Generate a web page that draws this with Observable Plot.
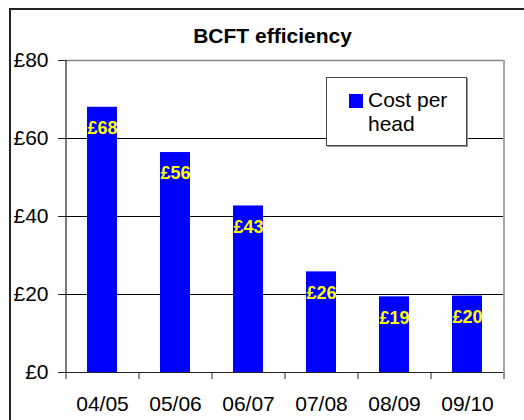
<!DOCTYPE html>
<html>
<head>
<meta charset="utf-8">
<script src="https://cdn.jsdelivr.net/npm/d3@7"></script>
<script src="https://cdn.jsdelivr.net/npm/@observablehq/plot@0.6"></script>
<style>
  html, body { margin: 0; padding: 0; background: #fff; overflow: hidden; }
  #wrap { position: relative; width: 524px; height: 420px; font-family: "Liberation Sans", Arial, sans-serif; }
  #outer { position: absolute; left: 9px; top: 8px; width: 600px; height: 500px; border: 2px solid #222; box-sizing: border-box; }
  #title { position: absolute; left: 0; top: 25px; width: 545px; text-align: center; font-size: 21px; line-height: 21px; font-weight: bold; color: #000; }
  #chart { position: absolute; left: 0; top: 0; }
  #legend { position: absolute; left: 326px; top: 77px; width: 141px; height: 69px; box-sizing: border-box; border: 1px solid #444; box-shadow: 1px 1px 0 #999; background: #fff; }
  #swatch { position: absolute; left: 349px; top: 94px; width: 14px; height: 14px; background: #0000ff; }
  #ltext { position: absolute; left: 368px; top: 88px; font-size: 21px; line-height: 24px; color: #000; }
</style>
</head>
<body>
<div id="wrap">
  <div id="outer"></div>
  <div id="title">BCFT efficiency</div>
  <div id="chart"></div>
  <div id="legend"></div>
  <div id="swatch"></div>
  <div id="ltext">Cost per<br>head</div>
</div>
<script>
const categories = ["04/05", "05/06", "06/07", "07/08", "08/09", "09/10"];
const costPerHead = [68, 56.4, 42.7, 25.8, 19.4, 19.6];
const yTicks = [0, 20, 40, 60, 80];
const gridValues = [20, 40, 60];

const data = categories.map((c, i) => ({period: c, value: costPerHead[i]}));

const W = 524, H = 420, mL = 65, mR = 21, mT = 60, mB = 48;
const step = (W - mL - mR) / categories.length;

const chart = Plot.plot({
  width: W,
  height: H,
  marginLeft: mL,
  marginRight: mR,
  marginTop: mT,
  marginBottom: mB,
  style: {fontFamily: "'Liberation Sans', Arial, sans-serif", fontSize: "21px", background: "transparent", color: "#000", overflow: "visible"},
  x: {domain: categories, paddingInner: 0.59, paddingOuter: 0.295, axis: null},
  y: {domain: [0, 80], axis: null},
  marks: [
    Plot.ruleY(gridValues, {stroke: "#000", strokeWidth: 1}),
    Plot.ruleY([80], {stroke: "#888", strokeWidth: 1.5}),
    Plot.ruleX([categories[categories.length - 1]], {y1: 0, y2: 80, dx: step / 2, stroke: "#888", strokeWidth: 1.5}),
    Plot.barY(data, {x: "period", y: "value", fill: "#0000ff"}),
    Plot.text(data, {x: "period", y: "value", text: d => "£" + Math.round(d.value), dy: 21, fill: "#ffff00", fontWeight: "bold", fontSize: 18}),
    Plot.ruleY([0], {stroke: "#222", strokeWidth: 1.2}),
    Plot.ruleX([categories[0]], {y1: 0, y2: 80, dx: -step / 2, stroke: "#222", strokeWidth: 1.2}),
    Plot.axisY({ticks: yTicks, tickSize: 7, tickPadding: 10, tickFormat: d => "£" + d, stroke: "#222", fill: "#000", label: null}),
    Plot.axisX({text: null, tickSize: 7, dx: -step / 2, stroke: "#222", label: null}),
    Plot.axisX({ticks: [categories[categories.length - 1]], text: null, tickSize: 7, dx: step / 2, stroke: "#222", label: null}),
    Plot.axisX({tickSize: 0, tickPadding: 24, fill: "#000", label: null})
  ]
});
document.getElementById("chart").appendChild(chart);
</script>
</body>
</html>
